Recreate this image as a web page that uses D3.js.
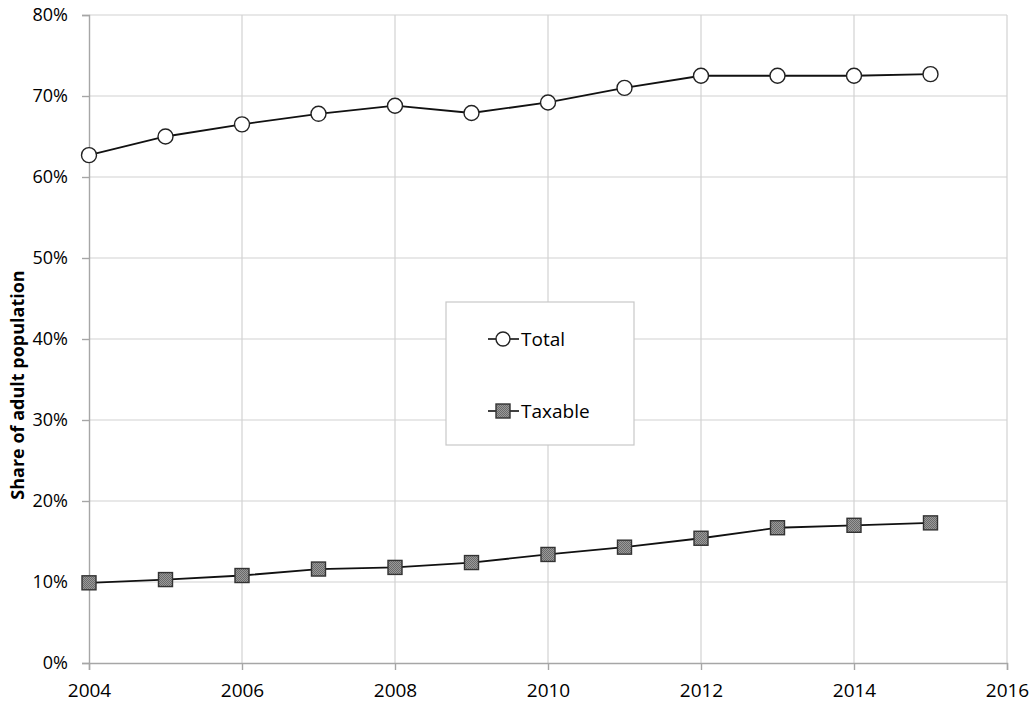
<!DOCTYPE html>
<html>
<head>
<meta charset="utf-8">
<script src="https://cdn.jsdelivr.net/npm/d3@7"></script>
<style>
  html, body { margin: 0; padding: 0; background: #fff; }
  svg { display: block; font-family: "Open Sans", "Liberation Sans", sans-serif; }
</style>
</head>
<body>
<svg id="chart" width="1035" height="704"></svg>
<script>
// Share of the adult population, by year
const years = [2004, 2005, 2006, 2007, 2008, 2009, 2010, 2011, 2012, 2013, 2014, 2015];
const totalShare = [0.627, 0.650, 0.665, 0.678, 0.688, 0.679, 0.692, 0.710, 0.725, 0.725, 0.725, 0.727];
const taxableShare = [0.099, 0.103, 0.108, 0.116, 0.118, 0.124, 0.134, 0.143, 0.154, 0.167, 0.170, 0.173];
const xTicks = [2004, 2006, 2008, 2010, 2012, 2014, 2016];
const yTicks = [0, 0.1, 0.2, 0.3, 0.4, 0.5, 0.6, 0.7, 0.8];
const seriesNames = ["Total", "Taxable"];
const yTitle = "Share of adult population";

const svg = d3.select("#chart");
const plot = { left: 89, right: 1007, top: 15, bottom: 663 };

const x = d3.scaleLinear().domain([2004, 2016]).range([plot.left, plot.right]);
const y = d3.scaleLinear().domain([0, 0.8]).range([plot.bottom, plot.top]);

// pattern for the taxable markers (fine grey stipple)
const defs = svg.append("defs");
const pat = defs.append("pattern")
  .attr("id", "stipple").attr("patternUnits", "userSpaceOnUse")
  .attr("width", 2).attr("height", 2);
pat.append("rect").attr("width", 2).attr("height", 2).attr("fill", "#9a9a9a");
pat.append("rect").attr("width", 1).attr("height", 1).attr("fill", "#6a6a6a");
pat.append("rect").attr("x", 1).attr("y", 1).attr("width", 1).attr("height", 1).attr("fill", "#6a6a6a");

// gridlines
const grid = svg.append("g");
grid.selectAll("line.h").data(yTicks.filter(d => d > 0)).join("line")
  .attr("x1", plot.left).attr("x2", plot.right)
  .attr("y1", d => y(d)).attr("y2", d => y(d))
  .attr("stroke", "#d2d2d2").attr("stroke-width", 1.2);
grid.selectAll("line.v").data(xTicks.filter(d => d > 2004)).join("line")
  .attr("y1", plot.top).attr("y2", plot.bottom)
  .attr("x1", d => x(d)).attr("x2", d => x(d))
  .attr("stroke", "#d2d2d2").attr("stroke-width", 1.2);

// axes
const yAxis = d3.axisLeft(y).tickValues(yTicks).tickFormat(d3.format(".0%"))
  .tickSize(7).tickPadding(14);
const gy = svg.append("g").attr("transform", `translate(${plot.left},0)`).call(yAxis);
gy.select(".domain").attr("stroke", "#a6a6a6").attr("stroke-width", 1.4);
gy.selectAll(".tick line").attr("stroke", "#a6a6a6").attr("stroke-width", 1.4);
gy.selectAll(".tick text").attr("font-size", 18).attr("fill", "#000")
  .attr("font-family", "'Open Sans', sans-serif");

const xAxis = d3.axisBottom(x).tickValues(xTicks).tickFormat(d3.format("d"))
  .tickSize(7).tickPadding(14);
const gx = svg.append("g").attr("transform", `translate(0,${plot.bottom})`).call(xAxis);
gx.select(".domain").attr("stroke", "#a6a6a6").attr("stroke-width", 1.4);
gx.selectAll(".tick line").attr("stroke", "#a6a6a6").attr("stroke-width", 1.4);
gx.selectAll(".tick text").attr("font-size", 19).attr("fill", "#000")
  .attr("font-family", "'Open Sans', sans-serif");

// axis title
svg.append("text")
  .attr("transform", `translate(24,385) rotate(-90)`)
  .attr("text-anchor", "middle")
  .attr("font-size", 18).attr("font-weight", "bold").attr("fill", "#000")
  .text(yTitle);

// lines
const line = d3.line().x(d => x(d[0])).y(d => y(d[1]));
const totalPts = years.map((yr, i) => [yr, totalShare[i]]);
const taxPts = years.map((yr, i) => [yr, taxableShare[i]]);

svg.append("path").datum(totalPts).attr("d", line)
  .attr("fill", "none").attr("stroke", "#111").attr("stroke-width", 1.8);
svg.append("path").datum(taxPts).attr("d", line)
  .attr("fill", "none").attr("stroke", "#111").attr("stroke-width", 1.8);

// markers
const sq = 14;
svg.append("g").selectAll("circle").data(totalPts).join("circle")
  .attr("cx", d => x(d[0])).attr("cy", d => y(d[1])).attr("r", 7.5)
  .attr("fill", "#fff").attr("stroke", "#222").attr("stroke-width", 1.4);
svg.append("g").selectAll("rect").data(taxPts).join("rect")
  .attr("x", d => x(d[0]) - sq / 2).attr("y", d => y(d[1]) - sq / 2)
  .attr("width", sq).attr("height", sq)
  .attr("fill", "url(#stipple)").attr("stroke", "#333").attr("stroke-width", 1.4);

// legend
const lg = svg.append("g");
lg.append("rect").attr("x", 446).attr("y", 302).attr("width", 188).attr("height", 143)
  .attr("fill", "#fff").attr("stroke", "#c8c8c8").attr("stroke-width", 1.2);
const legendRows = [
  { name: seriesNames[0], cy: 339, shape: "circle" },
  { name: seriesNames[1], cy: 411, shape: "square" }
];
legendRows.forEach(r => {
  lg.append("line").attr("x1", 488).attr("x2", 519).attr("y1", r.cy).attr("y2", r.cy)
    .attr("stroke", "#111").attr("stroke-width", 1.6);
  if (r.shape === "circle") {
    lg.append("circle").attr("cx", 503).attr("cy", r.cy).attr("r", 7)
      .attr("fill", "#fff").attr("stroke", "#222").attr("stroke-width", 1.4);
  } else {
    lg.append("rect").attr("x", 496).attr("y", r.cy - 7).attr("width", 14).attr("height", 14)
      .attr("fill", "url(#stipple)").attr("stroke", "#333").attr("stroke-width", 1.4);
  }
  lg.append("text").attr("x", 521).attr("y", r.cy + 7)
    .attr("font-size", 19).attr("fill", "#000").text(r.name);
});
</script>
</body>
</html>
